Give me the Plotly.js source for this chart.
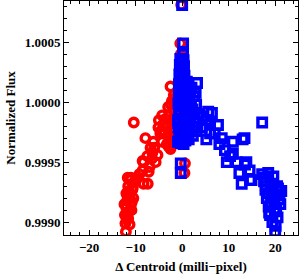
<!DOCTYPE html>
<html><head><meta charset="utf-8">
<script src="https://cdn.plot.ly/plotly-3.0.1.min.js"></script>
<style>html,body{margin:0;padding:0;background:#fff}#c{width:300px;height:276px}</style>
</head><body><div id="c"></div>
<script>
// Red series (circles)
const redX = [-0.2,-0.4,-0.3,
  -0.2,0.1,-0.3,0.2,-0.1,0.3,-0.2,-0.4,
  -2.5,-1.8,-2.2,-3.0,-1.9,-2.8,-3.6,-2.2,-3.2,-1.8,-2.7,-3.8,-2.0,-3.3,-2.5,
  -1.6,-2.4,-1.7,-3.4,-2.1,-1.5,-2.9,
  -4.3,-4.0,-5.1,-4.7,-7.9,-6.2,-4.3,-6.4,-5.3,-8.3,-5.7,-8.5,-7.2,-7.4,-11.7,-8.3,-10.4,
  -6.8,-7.5,-9.2,-9.8,-8.5,-5.0,-6.0,-4.6,-7.0,-6.5,
  -11.0,-10.4,-11.6,-10.7,-11.3,-10.5,-11.8,-11.0,-12.0,-11.4,-12.3,-11.6,-12.2,-11.3,-12.1,
  -10.9,-11.5,-12.4,-11.9,-10.8,-11.2,-12.0,-11.7,-10.6,-11.9,
  0.6,0.5];
const redY = [1.00081,1.00049,1.00040,
  1.00038,1.00030,1.00020,1.00010,1.00000,0.99990,0.99980,0.99966,
  1.00013,1.00006,1.00001,0.99996,0.99993,0.99989,0.99986,0.99983,0.99979,0.99976,0.99972,0.99974,0.99968,0.99965,0.99961,
  1.00003,0.99998,0.99987,0.99981,0.99978,0.99971,0.99963,
  0.99989,0.99982,0.99979,0.99974,0.99970,0.99967,0.99967,0.99958,0.99956,0.99950,0.99950,0.99943,0.99942,0.99932,0.99937,0.99932,0.99983,
  0.99962,0.99955,0.99940,0.99936,0.99951,0.99985,0.99962,0.99976,0.99946,0.99953,
  0.99937,0.99933,0.99930,0.99927,0.99923,0.99920,0.99918,0.99915,0.99912,0.99909,0.99906,0.99903,0.99899,0.99898,0.99892,
  0.99910,0.99926,0.99915,0.99902,0.99917,0.99935,0.99924,0.99921,0.99929,0.99907,
  0.99949,0.99941];
// Blue series (squares)
const blueX = [0.0,0.2,0.2,
  -0.4,0.3,-0.5,0.4,0.0,-0.6,0.5,0.1,-0.7,0.6,-0.1,1.0,-0.7,0.7,0.2,
  -0.8,0.6,-0.2,0.9,-0.7,0.5,0.0,-0.8,0.8,0.3,-0.6,0.4,-0.2,0.7,-0.3,0.3,
  -0.1,0.1,-0.3,0.4,-0.6,0.8,-0.4,1.2,-0.9,1.1,-0.8,1.3,-0.5,1.0,-0.9,1.2,
  3.2,1.8,2.6,1.5,3.0,2.2,3.4,1.7,2.8,1.6,3.1,2.3,1.4,
  2.0,2.9,1.9,3.3,2.5,2.1,
  5.6,5.2,6.0,5.2,4.5,4.2,
  6.4,6.0,7.7,7.0,8.5,10.9,13.0,13.4,10.9,9.6,11.7,13.8,14.5,12.3,12.8,14.9,17.2,13.5,14.6,
  8.0,9.2,10.3,
  17.2,18.5,19.6,17.6,19.0,20.4,17.9,19.3,20.8,18.2,19.8,21.1,18.6,20.2,18.9,20.5,19.4,20.1,20.0,
  18.0,19.9,20.9,19.1,18.4,20.6,19.5,17.8,21.3,18.7,
  -0.3,-0.3];
const blueY = [1.00081,1.00049,1.00040,
  1.00036,1.00035,1.00031,1.00030,1.00027,1.00023,1.00022,1.00019,1.00015,1.00014,1.00011,1.00017,1.00008,1.00006,1.00003,
  0.99999,1.00001,0.99997,0.99995,0.99991,0.99989,0.99986,0.99983,0.99981,0.99978,0.99975,0.99973,0.99970,0.99968,0.99966,0.99965,
  1.00033,1.00025,1.00013,1.00009,1.00004,0.99998,0.99993,0.99993,0.99985,0.99985,0.99979,0.99978,0.99972,0.99971,0.99967,1.00004,
  1.00016,1.00010,1.00005,1.00002,0.99998,0.99994,0.99990,0.99987,0.99983,0.99978,0.99976,0.99972,0.99969,
  1.00012,1.00008,0.99996,0.99980,0.99979,0.99990,
  0.99992,0.99985,0.99974,0.99969,0.99988,0.99979,
  0.99991,0.99983,0.99981,0.99974,0.99970,0.99967,0.99969,0.99970,0.99957,0.99950,0.99950,0.99950,0.99943,0.99941,0.99932,0.99935,0.99983,0.99948,0.99935,
  0.99965,0.99960,0.99955,
  0.99940,0.99941,0.99938,0.99934,0.99932,0.99930,0.99927,0.99925,0.99923,0.99920,0.99918,0.99915,0.99913,0.99911,0.99906,0.99904,0.99900,0.99897,0.99892,
  0.99930,0.99909,0.99919,0.99916,0.99924,0.99928,0.99921,0.99937,0.99926,0.99908,
  0.99949,0.99941];
const xTitle = 'Δ Centroid (milli−pixel)';
const yTitle = 'Normalized Flux';

const font = {family:'"Liberation Serif", "Times New Roman", serif', size:13, color:'#000', weight:'bold'};
const traces = [
  {x:redX, y:redY, type:'scatter', mode:'markers', marker:{symbol:'circle-open', size:8.5, color:'#ff0000', line:{width:3.4, color:'#ff0000'}}},
  {x:blueX, y:blueY, type:'scatter', mode:'markers', marker:{symbol:'square-open', size:8.5, color:'#0000ff', line:{width:3.4, color:'#0000ff'}}}
];
const axCommon = {showline:true, linecolor:'#000', linewidth:1, mirror:'allticks', ticks:'inside', tickcolor:'#000', tickwidth:1, ticklen:5,
  showgrid:false, zeroline:false, tickfont:font};
const layout = {
  width:300, height:276, margin:{l:64, r:2, t:1, b:41}, showlegend:false,
  paper_bgcolor:'#fff', plot_bgcolor:'#fff', font:font,
  xaxis: Object.assign({}, axCommon, {range:[-25.4,24.9], tickmode:'linear', tick0:0, dtick:10,
    minor:{dtick:2, ticks:'inside', ticklen:3, tickcolor:'#000', showgrid:false},
    title:{text:xTitle, font:font, standoff:8}}),
  yaxis: Object.assign({}, axCommon, {range:[0.998893,1.000843], tickmode:'linear', tick0:1, dtick:0.0005, tickformat:'.4f',
    minor:{dtick:0.0001, ticks:'inside', ticklen:3, tickcolor:'#000', showgrid:false},
    title:{text:yTitle, font:font, standoff:6}})
};
Plotly.newPlot('c', traces, layout, {staticPlot:true, displayModeBar:false});
</script>
</body></html>
